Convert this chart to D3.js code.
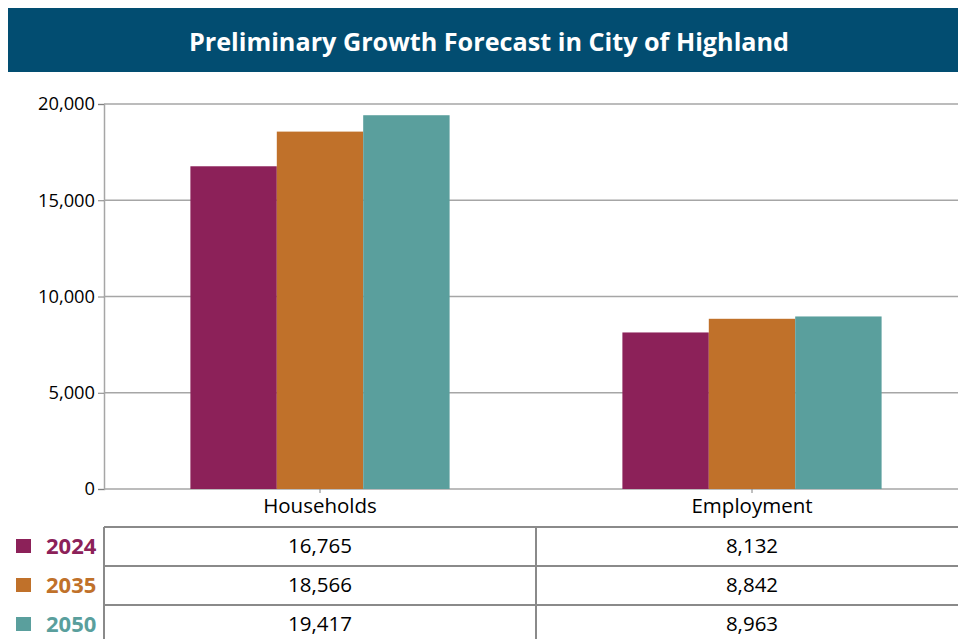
<!DOCTYPE html>
<html><head><meta charset="utf-8">
<script src="https://cdn.jsdelivr.net/npm/d3@7"></script>
<style>body{margin:0;background:#fff;}svg{display:block;}</style>
</head><body>
<svg id="c" width="958" height="639"></svg>
<script>
const title = "Preliminary Growth Forecast in City of Highland";
const categories = ["Households", "Employment"];
const years = ["2024", "2035", "2050"];
const households = [16765, 18566, 19417];
const employment = [8132, 8842, 8963];
const yTicks = [0, 5000, 10000, 15000, 20000];
const colors = ["#8c2159", "#c0712a", "#5a9f9d"];

const seriesByCat = [households, employment];
const font = "'Open Sans', 'Noto Sans', sans-serif";
const svg = d3.select("#c").style("font-family", font);

// Banner
svg.append("rect").attr("x", 8).attr("y", 8).attr("width", 950).attr("height", 64).attr("fill", "#024d71");
svg.append("text").attr("x", 489).attr("y", 41).attr("text-anchor", "middle").attr("dominant-baseline", "central")
  .attr("fill", "#fff").attr("font-weight", 700).attr("font-size", 25.2).text(title);

const pLeft = 104, pRight = 968, pTop = 104, pBottom = 489;
const y = d3.scaleLinear().domain([0, 20000]).range([pBottom, pTop]);
const x0 = d3.scaleBand().domain(categories).range([pLeft, pRight]).paddingInner(0.4).paddingOuter(0.2);
const x1 = d3.scaleBand().domain(years).range([0, x0.bandwidth()]);
const xCol = d3.scaleBand().domain(categories).range([pLeft, pRight]);

// gridlines
svg.append("g").selectAll("line").data(yTicks).join("line")
  .attr("x1", pLeft).attr("x2", 958).attr("y1", d => y(d)).attr("y2", d => y(d))
  .attr("stroke", "#a6a6a6").attr("stroke-width", 1.5);

// bars
const groups = svg.append("g").selectAll("g").data(categories).join("g")
  .attr("transform", d => `translate(${x0(d)},0)`);
groups.selectAll("rect").data((c, i) => years.map((yr, j) => ({yr, v: seriesByCat[i][j], j})))
  .join("rect")
  .attr("x", d => x1(d.yr)).attr("width", x1.bandwidth())
  .attr("y", d => y(d.v)).attr("height", d => pBottom - y(d.v))
  .attr("fill", d => colors[d.j]);

// y axis
const yAxis = svg.append("g").attr("transform", `translate(${pLeft},0)`)
  .call(d3.axisLeft(y).tickValues(yTicks).tickFormat(d3.format(",")).tickSize(6).tickPadding(3));
yAxis.select(".domain").attr("stroke", "#a6a6a6").attr("stroke-width", 1.5);
yAxis.selectAll(".tick line").attr("stroke", "#808080");
yAxis.selectAll("text").attr("font-size", 18.3).attr("fill", "#000").style("font-family", font);

// x axis
const xAxis = svg.append("g").attr("transform", `translate(0,${pBottom})`)
  .call(d3.axisBottom(xCol).tickSize(4).tickPadding(5));
xAxis.select(".domain").remove();
xAxis.selectAll(".tick line").attr("stroke", "#808080");
xAxis.selectAll("text").attr("font-size", 20.5).attr("fill", "#000").style("font-family", font);

// table
const rowTop = 527, rowH = 39;
const tbl = svg.append("g");
years.forEach((yr, j) => {
  const yy = rowTop + j * rowH;
  tbl.append("line").attr("x1", pLeft).attr("x2", 958).attr("y1", yy).attr("y2", yy)
    .attr("stroke", "#8a8a8a").attr("stroke-width", 2);
  tbl.append("rect").attr("x", 16).attr("y", yy + 12).attr("width", 15).attr("height", 14).attr("fill", colors[j]);
  tbl.append("text").attr("x", 46).attr("y", yy + 17.5).attr("dominant-baseline", "central")
    .attr("font-size", 22).attr("font-weight", 700).attr("fill", colors[j]).text(yr);
  categories.forEach((c, i) => {
    tbl.append("text").attr("x", xCol(c) + xCol.bandwidth() / 2).attr("y", yy + 17.5)
      .attr("text-anchor", "middle").attr("dominant-baseline", "central")
      .attr("font-size", 20.5).attr("fill", "#000").text(d3.format(",")(seriesByCat[i][j]));
  });
});
categories.forEach(c => {
  tbl.append("line").attr("x1", xCol(c)).attr("x2", xCol(c)).attr("y1", rowTop).attr("y2", 639)
    .attr("stroke", "#8a8a8a").attr("stroke-width", 2);
});
</script>
</body></html>
